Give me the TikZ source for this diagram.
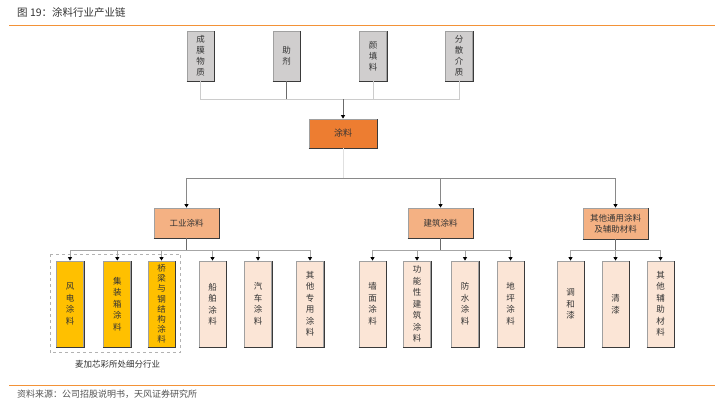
\documentclass[tikz,border=0pt]{standalone}
\usepackage{fontspec}
\setmainfont{Noto Sans CJK SC}
\usetikzlibrary{arrows.meta}
\definecolor{topgray}{HTML}{D0CECE}
\definecolor{mainor}{HTML}{ED7D31}
\definecolor{midor}{HTML}{F4B183}
\definecolor{lightor}{HTML}{FBE5D6}
\definecolor{gold}{HTML}{FFC000}
\definecolor{accent}{HTML}{F39237}
\definecolor{txt}{HTML}{333333}
\definecolor{linegray}{HTML}{A6A6A6}
\definecolor{darkline}{HTML}{6B6B6B}
\definecolor{edgelight}{HTML}{A0A0A0}
\definecolor{edgedark}{HTML}{3A3A3A}
\tikzset{
  bx/.style={rectangle, draw=edgelight, line width=0.8pt, inner sep=0pt, text=txt, align=center},
  vbox/.style={bx, minimum width=27pt, font=\fontsize{8.5}{11.5}\selectfont},
  topbox/.style={vbox, fill=topgray, minimum height=50pt, font=\fontsize{8.5}{11}\selectfont},
  leafg/.style={vbox, fill=gold, minimum height=86pt},
  leafp/.style={vbox, fill=lightor, minimum height=86pt},
  catbox/.style={bx, fill=midor, minimum width=65pt, minimum height=30pt, font=\fontsize{8.5}{11}\selectfont},
  conn/.style={draw=linegray, line width=0.8pt},
  arr/.style={conn, -{Triangle[length=3.5pt,width=4pt,fill=black,color=black]}},
}
\begin{document}
\begin{tikzpicture}[x=1pt,y=-1pt]
\useasboundingbox (0,0) rectangle (720,404);
% title and rules
\node[anchor=west, text=txt, font=\fontsize{10.5}{12}\selectfont, inner sep=0pt] (title) at (17,13) {图 19：涂料行业产业链};
\draw[accent, line width=1pt] (9,26) coordinate (r1a) -- (715,26) coordinate (r1b);
\draw[accent, line width=1pt] (9,385) coordinate (r2a) -- (715,385) coordinate (r2b);
\node[anchor=west, text=txt!85, font=\fontsize{9}{11}\selectfont, inner sep=0pt] (src) at (17,394) {资料来源：公司招股说明书，天风证券研究所};

% top inputs
\node[topbox] (t1) at (200.5,56) {成\\膜\\物\\质};
\node[topbox] (t2) at (286.5,56) {助\\剂};
\node[topbox] (t3) at (373,56) {颜\\填\\料};
\node[topbox] (t4) at (459,56) {分\\散\\介\\质};

% main
\node[bx, fill=mainor, minimum width=68pt, minimum height=29pt, font=\fontsize{9}{11}\selectfont] (tl) at (343,133.5) {涂料};

% categories
\node[catbox] (ind) at (186.5,223) {工业涂料};
\node[catbox] (bld) at (440.5,223) {建筑涂料};
\node[catbox, minimum height=31pt] (oth) at (615.5,223.5) {其他通用涂料\\及辅助材料};

% leaves
\node[leafg] (l1) at (70,304) {风\\电\\涂\\料};
\node[leafg] (l2) at (117.3,304) {集\\装\\箱\\涂\\料};
\node[leafg, font=\fontsize{8.5}{10.2}\selectfont] (l3) at (161.5,304) {桥\\梁\\与\\钢\\结\\构\\涂\\料};
\node[leafp] (l4) at (212.5,304) {船\\舶\\涂\\料};
\node[leafp] (l5) at (258,304) {汽\\车\\涂\\料};
\node[leafp] (l6) at (310,304) {其\\他\\专\\用\\涂\\料};
\node[leafp] (b1) at (372.5,304) {墙\\面\\涂\\料};
\node[leafp] (b2) at (417,304) {功\\能\\性\\建\\筑\\涂\\料};
\node[leafp] (b3) at (465,304) {防\\水\\涂\\料};
\node[leafp] (b4) at (510.5,304) {地\\坪\\涂\\料};
\node[leafp] (o1) at (570.5,304) {调\\和\\漆};
\node[leafp] (o2) at (615.5,304) {清\\漆};
\node[leafp] (o3) at (660.5,304) {其\\他\\辅\\助\\材\\料};

% dark bottom/right edges
\foreach \n in {t1,t2,t3,t4,tl,ind,bld,oth,l1,l2,l3,l4,l5,l6,b1,b2,b3,b4,o1,o2,o3}{
  \draw[edgedark, line width=0.8pt] (\n.south west) -- (\n.south east) -- (\n.north east);
}

% highlight group
\draw[black!30, dashed, line width=0.6pt] (50,254) coordinate (g1) rectangle (180.7,352.7) coordinate (g2);
\node[text=txt, font=\fontsize{8.5}{10}\selectfont, inner sep=0pt] (glab) at (117.5,364) {麦加芯彩所处细分行业};

% connectors: inputs -> coating
\coordinate (j1) at (343,99);
\foreach \n in {t1,t3,t4}{ \draw[conn, draw=black!20] (\n.south) |- (j1); }
\draw[conn, draw=darkline] (t2.south) -- (t2.south |- j1);
\draw[arr, draw=darkline] (j1) -- (tl.north);

% coating -> categories
\coordinate (j2) at (343,178);
\draw[conn, draw=black!12] (tl.south) -- (j2);
\foreach \n in {ind,bld,oth}{ \draw[arr, draw=darkline!80] (j2) -| (\n.north); }

% categories -> leaves
\coordinate (j3) at (186.5,250);
\draw[conn, draw=darkline] (ind.south) -- (j3);
\foreach \n in {l1,l2,l3,l4,l5,l6}{ \draw[arr] (j3) -| (\n.north); }
\coordinate (j4) at (440.5,250);
\draw[conn, draw=darkline] (bld.south) -- (j4);
\foreach \n in {b1,b2,b3,b4}{ \draw[arr] (j4) -| (\n.north); }
\coordinate (j5) at (615.5,250);
\draw[conn, draw=darkline] (oth.south) -- (j5);
\foreach \n in {o1,o2,o3}{ \draw[arr] (j5) -| (\n.north); }
\end{tikzpicture}
\end{document}
